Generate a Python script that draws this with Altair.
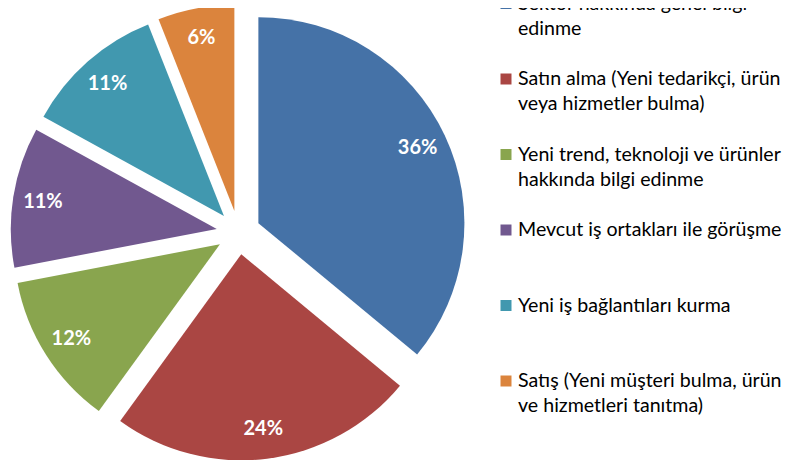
import altair as alt
import pandas as pd

categories = [
    "Sektor hakkında genel bilgi\nedinme",
    "Satın alma (Yeni tedarikçi, ürün\nveya hizmetler bulma)",
    "Yeni trend, teknoloji ve ürünler\nhakkında bilgi edinme",
    "Mevcut iş ortakları ile görüşme",
    "Yeni iş bağlantıları kurma",
    "Satış (Yeni müşteri bulma, ürün\nve hizmetleri tanıtma)",
]
values = [36, 24, 12, 11, 11, 6]
colors = ["#4572A7", "#AA4643", "#89A54E", "#71588F", "#4198AF", "#DB843D"]

df = pd.DataFrame({"idx": list(range(len(values))), "cat": categories, "value": values})

CX, CY = 230.5, 224.5   # pie centre (px)
D = 22                  # explode distance
R = 206                 # radius
LR = 176                # label distance from slice apex
LEG_X, LEG_Y0, LEG_DY = 499, -4.5, 75.5

FONT = "Lato"

base = alt.Chart(df).transform_window(
    cum="sum(value)", sort=[alt.SortField("idx")], frame=[None, 0]
).transform_joinaggregate(
    total="sum(value)"
).transform_calculate(
    start="(datum.cum - datum.value) / datum.total * 2 * PI",
    end="datum.cum / datum.total * 2 * PI",
).transform_calculate(
    mid="(datum.start + datum.end) / 2",
).transform_calculate(
    px=f"{CX} + {D} * sin(datum.mid)",
    py=f"{CY} - {D} * cos(datum.mid)",
    pct="datum.value + '%'",
    ly=f"{LEG_Y0} + datum.idx * {LEG_DY}",
).transform_calculate(
    lx=f"datum.px + {LR} * sin(datum.mid)",
    lyy=f"datum.py - {LR} * cos(datum.mid)",
)

color = alt.Color("cat:N", scale=alt.Scale(domain=categories, range=colors), legend=None)

arcs = base.mark_arc(radius=R, stroke=None).encode(
    x=alt.X("px:Q", scale=None),
    y=alt.Y("py:Q", scale=None),
    theta=alt.Theta("start:Q", scale=None),
    theta2="end:Q",
    color=color,
)

labels = base.mark_text(
    font=FONT, fontSize=20, fontWeight="bold", color="white", align="center", baseline="middle"
).encode(
    x=alt.X("lx:Q", scale=None),
    y=alt.Y("lyy:Q", scale=None),
    text="pct:N",
)

leg_sq = base.mark_square(size=121, opacity=1).encode(
    x=alt.value(LEG_X - 1),
    y=alt.Y("ly:Q", scale=None),
    color=color,
)

leg_txt = base.mark_text(
    font=FONT, fontSize=19.6, color="#000000", align="left", baseline="middle",
    lineBreak="\n", lineHeight=25,
).encode(
    x=alt.value(LEG_X + 11),
    y=alt.Y("ly:Q", scale=None),
    text="cat:N",
)

chart = alt.layer(arcs, labels, leg_sq, leg_txt).properties(
    width=780, height=452, padding=0, autosize="none"
).configure_view(stroke=None)

chart.save("out.html", embed_options={"renderer": "svg", "actions": False})
